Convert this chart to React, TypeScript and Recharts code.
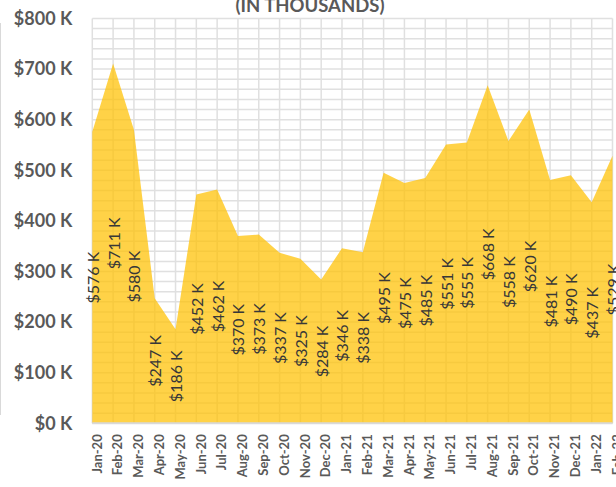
import React from "react";
import { AreaChart, Area, XAxis, YAxis, CartesianGrid, LabelList } from "recharts";

const months = [
  "Jan-20", "Feb-20", "Mar-20", "Apr-20", "May-20", "Jun-20", "Jul-20", "Aug-20",
  "Sep-20", "Oct-20", "Nov-20", "Dec-20", "Jan-21", "Feb-21", "Mar-21", "Apr-21",
  "May-21", "Jun-21", "Jul-21", "Aug-21", "Sep-21", "Oct-21", "Nov-21", "Dec-21",
  "Jan-22", "Feb-22",
];

const revenue = [
  576, 711, 580, 247, 186, 452, 462, 370, 373, 337, 325, 284, 346, 338, 495, 475,
  485, 551, 555, 668, 558, 620, 481, 490, 437, 529,
];

const yTicks = [0, 100, 200, 300, 400, 500, 600, 700, 800];

const minorGrid = [
  0, 20, 40, 60, 80, 100, 120, 140, 160, 180, 200, 220, 240, 260, 280, 300, 320,
  340, 360, 380, 400, 420, 440, 460, 480, 500, 520, 540, 560, 580, 600, 620, 640,
  660, 680, 700, 720, 740, 760, 780, 800,
];

const data = months.map((m, i) => ({ month: m, v: revenue[i] }));

const W = 640;
const H = 487;
const TOP = 18.5;
const X_AXIS_H = 63.7;
const PLOT_BOTTOM = H - X_AXIS_H;
const Y_MAX = 800;

// grid rows follow the same linear mapping as the y axis
const gridRows = minorGrid.map(
  (v) => TOP + (1 - v / Y_MAX) * (PLOT_BOTTOM - TOP)
);

const fmt = (v: number) => `$${v} K`;

const renderLabel = (props: any) => {
  const { x, y, value } = props;
  const cy = (y + PLOT_BOTTOM) / 2;
  return (
    <text
      x={x}
      y={cy}
      transform={`rotate(-90 ${x} ${cy})`}
      textAnchor="middle"
      dominantBaseline="central"
      fill="#383838"
      fontSize={16}
      fontFamily="Lato"
    >
      {fmt(value)}
    </text>
  );
};

export default function App() {
  return (
    <div
      style={{
        position: "fixed",
        left: 0,
        top: 0,
        width: 616,
        height: 487,
        overflow: "hidden",
        background: "#fff",
        fontFamily: "Lato",
      }}
    >
      <div
        style={{
          position: "absolute",
          left: 0,
          top: 23,
          width: 1,
          height: 392,
          background: "#D9D9D9",
        }}
      />
      <div
        style={{
          position: "absolute",
          left: 0,
          width: 620,
          top: -4,
          textAlign: "center",
          fontSize: 18.5,
          lineHeight: 1,
          fontWeight: 700,
          color: "#595959",
          whiteSpace: "nowrap",
        }}
      >
        (IN THOUSANDS)
      </div>
      <AreaChart
        width={W}
        height={H}
        data={data}
        margin={{ top: TOP, right: 27.5, left: 0, bottom: 0 }}
      >
        <CartesianGrid stroke="#E0E0E0" strokeWidth={1.5} horizontalPoints={gridRows} />
        <XAxis
          dataKey="month"
          interval={0}
          angle={-90}
          textAnchor="end"
          height={X_AXIS_H}
          tickSize={0}
          tickMargin={11}
          tickLine={false}
          axisLine={{ stroke: "#D9D9D9", strokeWidth: 2 }}
          tick={{ fill: "#595959", fontSize: 13, fontWeight: 700, fontFamily: "Lato" }}
        />
        <YAxis
          domain={[0, Y_MAX]}
          ticks={yTicks}
          tickFormatter={fmt}
          width={92.3}
          tickSize={0}
          tickMargin={20}
          axisLine={false}
          tickLine={false}
          tick={{ fill: "#595959", fontSize: 18, fontWeight: 700, fontFamily: "Lato" }}
        />
        <Area
          type="linear"
          dataKey="v"
          fill="#FFC000"
          fillOpacity={0.72}
          stroke="none"
          isAnimationActive={false}
        >
          <LabelList dataKey="v" content={renderLabel} />
        </Area>
      </AreaChart>
    </div>
  );
}
